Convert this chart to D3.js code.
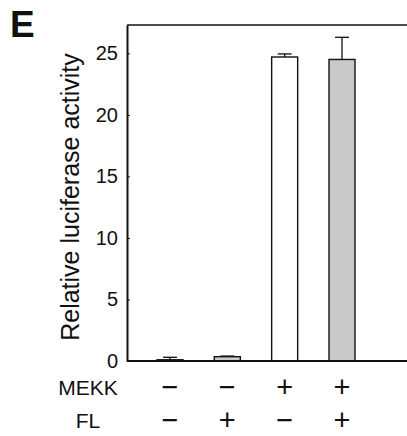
<!DOCTYPE html>
<html>
<head>
<meta charset="utf-8">
<script src="https://cdn.jsdelivr.net/npm/d3@7"></script>
<style>
  body { margin: 0; background: #fff; }
  text { font-family: "Liberation Sans", Arial, sans-serif; fill: #111; }
</style>
</head>
<body>
<div class="chart"></div>
<script>
// data
const conditions = ["c1", "c2", "c3", "c4"];
const activity = [0.1, 0.35, 24.7, 24.5];
const errors = [0.2, 0.05, 0.25, 1.8];
const mekk = ["−", "−", "+", "+"];
const fl = ["−", "+", "−", "+"];
const yTicks = [0, 5, 10, 15, 20, 25];

const w = 407;
const h = 436;
const plotLeft = 127, plotTop = 25, plotBottom = 361, plotRight = 412;

var svg = d3.select(".chart").append("svg")
    .attr("width", w)
    .attr("height", h);

var xScale = d3.scalePoint().domain(conditions).range([170, 342]);
var yScale = d3.scaleLinear().domain([0, 27.3]).range([plotBottom, plotTop]);
var barW = 26;

// frame (top and baseline run off the right edge like the original)
svg.append("line")
   .attr("x1", plotLeft).attr("x2", plotRight)
   .attr("y1", plotTop).attr("y2", plotTop)
   .attr("stroke", "#111").attr("stroke-width", 1.6);

// bars
svg.selectAll(".bar")
   .data(activity)
   .enter().append("rect")
   .attr("class", "bar")
   .attr("x", (d, i) => xScale(conditions[i]) - barW / 2)
   .attr("y", d => yScale(d))
   .attr("width", barW)
   .attr("height", d => plotBottom - yScale(d))
   .attr("fill", (d, i) => fl[i] == "+" ? "#c9c9c9" : "#fff")
   .attr("stroke", "#111")
   .attr("stroke-width", 1.4);

// error bars (upper only)
var eb = svg.selectAll(".err")
   .data(activity)
   .enter().append("g")
   .attr("class", "err");
eb.append("line")
  .attr("x1", (d, i) => xScale(conditions[i]))
  .attr("x2", (d, i) => xScale(conditions[i]))
  .attr("y1", d => yScale(d))
  .attr("y2", (d, i) => yScale(d + errors[i]))
  .attr("stroke", "#111").attr("stroke-width", 1.3);
eb.append("line")
  .attr("x1", (d, i) => xScale(conditions[i]) - 7)
  .attr("x2", (d, i) => xScale(conditions[i]) + 7)
  .attr("y1", (d, i) => yScale(d + errors[i]))
  .attr("y2", (d, i) => yScale(d + errors[i]))
  .attr("stroke", "#111").attr("stroke-width", 1.3);

// baseline
svg.append("line")
   .attr("x1", plotLeft).attr("x2", plotRight)
   .attr("y1", plotBottom).attr("y2", plotBottom)
   .attr("stroke", "#111").attr("stroke-width", 1.8);

// y axis, ticks pointing inward
var yAxis = d3.axisLeft(yScale)
    .tickValues(yTicks)
    .tickSizeInner(-3)
    .tickSizeOuter(0)
    .tickPadding(9);
var ya = svg.append("g")
   .attr("transform", "translate(" + plotLeft + ",0)")
   .call(yAxis);
ya.select(".domain").attr("stroke", "#111").attr("stroke-width", 2);
ya.selectAll(".tick line").attr("stroke", "#111");
ya.selectAll(".tick text")
  .style("font-family", "'Liberation Sans', Arial, sans-serif")
  .style("font-size", "20px")
  .attr("fill", "#111");

// y label
svg.append("text")
   .attr("transform", "translate(78.5,197) rotate(-90)")
   .attr("text-anchor", "middle")
   .style("font-size", "25px")
   .text("Relative luciferase activity");

// panel letter
svg.append("text")
   .attr("x", 10).attr("y", 37)
   .style("font-size", "37px")
   .style("font-weight", "bold")
   .text("E");

// condition rows
var rows = [["MEKK", mekk, 395], ["FL", fl, 428]];
rows.forEach(function(r) {
  svg.append("text")
     .attr("x", 88).attr("y", r[2])
     .attr("text-anchor", "middle")
     .style("font-size", "21px")
     .text(r[0]);
  svg.selectAll(".sign-" + r[0])
     .data(r[1])
     .enter().append("text")
     .attr("x", (d, i) => xScale(conditions[i]))
     .attr("y", r[2] + 2)
     .attr("text-anchor", "middle")
     .style("font-size", "29px")
     .style("font-weight", "300")
     .text(d => d);
});
</script>
</body>
</html>
